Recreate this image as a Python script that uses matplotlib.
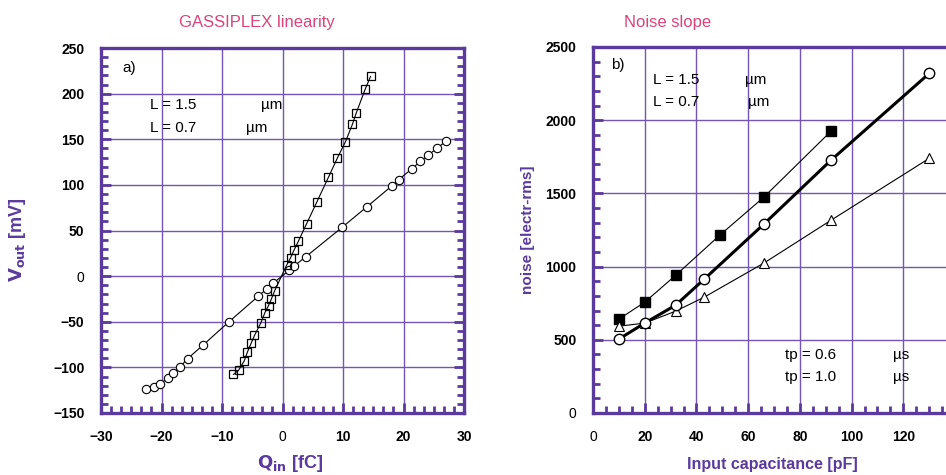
import matplotlib
matplotlib.use("Agg")
import matplotlib.pyplot as plt
from matplotlib.ticker import AutoMinorLocator

# ---------------- data ----------------
# panel a: linearity (Q_in [fC] -> V_out [mV])
q_circ = [-22.5, -21.3, -20.2, -19.0, -18.1, -17.0, -15.7, -13.2, -8.9, -4.0, -2.6, -1.6,
          1.1, 1.85, 3.9, 9.9, 13.95, 18.1, 19.2, 21.4, 22.8, 24.1, 25.5, 27.0]
v_circ = [-124, -122, -118, -112, -106, -100, -90.5, -76, -50.3, -22, -14, -8,
          6.3, 10.7, 21.5, 53.7, 76, 99, 105.7, 117.7, 125.8, 132.7, 140, 147.7]
q_sq = [-8.1, -7.27, -6.33, -5.79, -5.17, -4.63, -3.57, -2.91, -2.31, -1.87, -1.32,
        0.69, 1.34, 1.9, 2.64, 3.97, 5.70, 7.59, 9.09, 10.41, 11.57, 12.18, 13.67, 14.55]
v_sq = [-107.7, -103.3, -93, -83.1, -73.3, -65, -51.1, -40.1, -32.2, -25.6, -16.4,
        12.1, 20.2, 28.4, 38.5, 57.2, 81.6, 108.3, 129.7, 147.3, 166.6, 178.6, 204.9, 218.8]

# panel b: noise vs input capacitance
c_sq = [10, 20, 32, 49, 66, 92]
n_sq = [641, 757, 941, 1214, 1473, 1924]
c_circ = [10, 20, 32, 43, 66, 92, 130]
n_circ = [505, 614, 737, 914, 1289, 1726, 2319]
c_tri = [10, 20, 32, 43, 66, 92, 130]
n_tri = [593, 614, 696, 791, 1023, 1316, 1739]

xa_ticks = [-30, -20, -10, 0, 10, 20, 30]
ya_ticks = [-150, -100, -50, 0, 50, 100, 150, 200, 250]
xb_ticks = [0, 20, 40, 60, 80, 100, 120]
yb_ticks = [0, 500, 1000, 1500, 2000, 2500]

title_a = "GASSIPLEX linearity"
title_b = "Noise slope"

# ---------------- style ----------------
W, H = 946, 475
PURPLE = "#5b3a9e"
GRID = "#7356b3"
PINK = "#d9437a"
plt.rcParams['font.family'] = ['Liberation Sans', 'DejaVu Sans']

fig = plt.figure(figsize=(W / 100, H / 100), dpi=100)


def px_axes(l, t, r, b):
    return [l / W, 1 - b / H, (r - l) / W, (b - t) / H]


def style_axes(ax, right_ticks):
    for s in ax.spines.values():
        s.set_color(PURPLE)
        s.set_linewidth(2.4)
    ax.grid(True, which='major', color=GRID, lw=1.0)
    ax.set_axisbelow(True)
    ax.tick_params(which='both', direction='in', color=PURPLE, top=False,
                   right=right_ticks, labelsize=10, pad=12)
    ax.tick_params(which='major', length=7, width=2)
    ax.tick_params(which='minor', length=5, width=2)


def fmt(v):
    return ("\u2212" + str(-v)) if v < 0 else str(v)


def set_labels(ax, xt, yt):
    ax.set_xticks(xt)
    ax.set_yticks(yt)
    xl = ax.set_xticklabels([fmt(v) for v in xt])
    yl = ax.set_yticklabels([fmt(v) for v in yt])
    for t in list(xl) + list(yl):
        t.set_fontweight('normal' if t.get_text() == '0' else 'bold')
    return xl, yl


# ---- panel a ----
ax1 = fig.add_axes(px_axes(101, 48, 464, 413))
ax1.set_xlim(-30, 30)
ax1.set_ylim(-150, 250)
style_axes(ax1, True)
set_labels(ax1, xa_ticks, ya_ticks)
ax1.xaxis.set_minor_locator(AutoMinorLocator(6))
ax1.yaxis.set_minor_locator(AutoMinorLocator(5))
ax1.plot(q_circ, v_circ, '-', color='black', lw=0.8, marker='o', ms=6,
         mfc='white', mec='black', mew=0.8, zorder=3)
ax1.plot(q_sq, v_sq, '-', color='black', lw=0.8, marker='s', ms=5.5,
         mfc='none', mec='black', mew=0.9, zorder=3)
ax1.text(0.06, 0.945, "a)", transform=ax1.transAxes, fontsize=11, va='center')
ax1.text(0.135, 0.844, "L = 1.5", transform=ax1.transAxes, fontsize=11, va='center')
ax1.text(0.44, 0.844, "\u00b5m", transform=ax1.transAxes, fontsize=11, va='center')
ax1.text(0.135, 0.781, "L = 0.7", transform=ax1.transAxes, fontsize=11, va='center')
ax1.text(0.40, 0.781, "\u00b5m", transform=ax1.transAxes, fontsize=11, va='center')

# ---- panel b ----
ax2 = fig.add_axes(px_axes(593, 47, 955, 413))
ax2.set_xlim(0, 140)
ax2.set_ylim(0, 2500)
style_axes(ax2, False)
set_labels(ax2, xb_ticks, yb_ticks)
ax2.xaxis.set_minor_locator(AutoMinorLocator(4))
ax2.yaxis.set_minor_locator(AutoMinorLocator(5))
ax2.plot(c_sq, n_sq, '-', color='black', lw=0.8, marker='s', ms=7,
         mfc='black', mec='black', zorder=3)
ax2.plot(c_tri, n_tri, '-', color='black', lw=0.8, marker='^', ms=7,
         mfc='white', mec='black', mew=0.8, zorder=3)
ax2.plot(c_circ, n_circ, '-', color='black', lw=2.2, marker='o', ms=7.5,
         mfc='white', mec='black', mew=1.0, zorder=4)
ax2.text(0.05, 0.951, "b)", transform=ax2.transAxes, fontsize=11, va='center')
ax2.text(0.165, 0.910, "L = 1.5", transform=ax2.transAxes, fontsize=11, va='center')
ax2.text(0.42, 0.910, "\u00b5m", transform=ax2.transAxes, fontsize=11, va='center')
ax2.text(0.165, 0.850, "L = 0.7", transform=ax2.transAxes, fontsize=11, va='center')
ax2.text(0.428, 0.850, "\u00b5m", transform=ax2.transAxes, fontsize=11, va='center')
ax2.text(0.53, 0.158, "tp = 0.6", transform=ax2.transAxes, fontsize=11, va='center')
ax2.text(0.83, 0.158, "\u00b5s", transform=ax2.transAxes, fontsize=11, va='center')
ax2.text(0.53, 0.098, "tp = 1.0", transform=ax2.transAxes, fontsize=11, va='center')
ax2.text(0.83, 0.098, "\u00b5s", transform=ax2.transAxes, fontsize=11, va='center')


# ---- titles and axis labels ----
def ftext(px, py, s, **kw):
    fig.text(px / W, 1 - py / H, s, ha='center', va='center', **kw)


ftext(257, 22, title_a, color=PINK, fontsize=12)
ftext(668, 22, title_b, color=PINK, fontsize=12)
ftext(18, 240, r'$\mathbf{V_{out}}$ [mV]', color=PURPLE, fontsize=13,
      fontweight='bold', rotation=90)
ftext(290, 463, r'$\mathbf{Q_{in}}$ [fC]', color=PURPLE, fontsize=13, fontweight='bold')
ftext(528, 230, "noise [electr-rms]", color=PURPLE, fontsize=11,
      fontweight='bold', rotation=90)
ftext(772, 464, "Input capacitance [pF]", color=PURPLE, fontsize=11.5, fontweight='bold')

fig.savefig("out.png", dpi=100)
